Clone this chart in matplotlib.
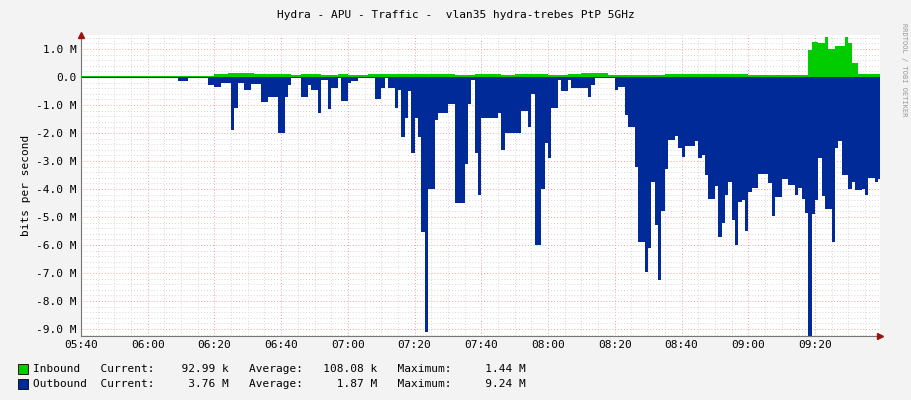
import numpy as np
import matplotlib.pyplot as plt
from matplotlib.patches import Rectangle

# minutes since 05:40, step series (value holds until next start), in Mbit/s
out_start = [0, 29, 32, 38, 40, 42, 45, 46, 47, 49, 51, 54, 56, 59, 61, 62, 63, 66, 68, 69, 71, 72,
             74, 75, 77, 78, 80, 81, 83, 88, 90, 91, 92, 94, 95, 96, 97, 98, 99, 100, 101, 102, 103,
             104, 106, 107, 110, 112, 115, 116, 117, 118, 119, 120, 125, 126, 127, 132, 134, 135,
             136, 138, 139, 140, 141, 143, 144, 146, 147, 152, 153, 154, 160, 161, 163, 164, 166,
             167, 169, 170, 171, 172, 173, 174, 175, 176, 178, 179, 180, 181, 184, 185, 186, 187,
             188, 190, 191, 192, 193, 194, 195, 196, 197, 198, 199, 200, 201, 203, 206, 207, 208,
             210, 212, 214, 215, 216, 217, 218, 219, 220, 221, 222, 223, 225, 226, 227, 228, 230,
             231, 232, 234, 235, 236, 238, 239]
out_val = [-0.05, -0.15, -0.05, -0.3, -0.35, -0.2, -1.9, -1.1, -0.2, -0.45, -0.25, -0.9, -0.7, -2.0,
           -0.7, -0.3, -0.05, -0.7, -0.3, -0.45, -1.3, -0.1, -1.15, -0.4, -0.05, -0.85, -0.2, -0.15,
           -0.05, -0.8, -0.4, -0.05, -0.4, -1.1, -0.45, -2.15, -1.45, -0.5, -2.7, -1.45, -2.15,
           -5.55, -9.1, -4.0, -1.55, -1.3, -0.95, -4.5, -3.1, -0.95, -0.1, -2.7, -4.2, -1.45, -1.3,
           -2.6, -2.0, -1.2, -1.8, -0.6, -6.0, -4.0, -2.35, -2.9, -1.1, -0.1, -0.5, -0.1, -0.4,
           -0.7, -0.3, -0.03, -0.45, -0.35, -1.35, -1.8, -3.2, -5.9, -6.95, -6.1, -3.75, -5.3,
           -7.25, -4.8, -3.3, -2.25, -2.1, -2.55, -2.85, -2.45, -2.3, -2.9, -2.8, -3.5, -4.35,
           -3.9, -5.7, -5.2, -4.2, -3.75, -5.1, -6.0, -4.45, -4.4, -5.5, -4.1, -3.95, -3.45, -3.8,
           -4.95, -4.3, -3.65, -3.85, -4.2, -3.95, -4.35, -4.85, -9.24, -4.9, -4.4, -2.9, -4.25,
           -4.7, -5.9, -2.55, -2.3, -3.5, -4.0, -3.75, -4.05, -4.0, -4.2, -3.6, -3.75, -3.65]

in_start = [0, 40, 44, 48, 52, 58, 63, 66, 69, 72, 77, 80, 86, 92, 96, 102, 108, 112, 118, 126,
            130, 140, 146, 150, 158, 175, 200, 218, 219, 221, 223, 224, 226, 229, 230, 231, 233,
            239]
in_val = [0.05, 0.12, 0.15, 0.13, 0.1, 0.12, 0.06, 0.1, 0.12, 0.08, 0.12, 0.06, 0.1, 0.12, 0.1,
          0.12, 0.1, 0.08, 0.1, 0.08, 0.12, 0.06, 0.1, 0.14, 0.08, 0.1, 0.08, 0.95, 1.25, 1.2,
          1.43, 1.0, 1.1, 1.43, 1.2, 0.5, 0.1, 0.1]

tick_min = [0, 20, 40, 60, 80, 100, 120, 140, 160, 180, 200, 220]
tick_lab = ['05:40', '06:00', '06:20', '06:40', '07:00', '07:20', '07:40', '08:00',
            '08:20', '08:40', '09:00', '09:20']
y_ticks = [1, 0, -1, -2, -3, -4, -5, -6, -7, -8, -9]

mono = 'DejaVu Sans Mono'
plt.rcParams['font.family'] = mono
plt.rcParams['font.size'] = 7

fig = plt.figure(figsize=(9.11, 4.0), dpi=100, facecolor='#F3F3F3')
ax = fig.add_axes([81 / 911, 1 - 336 / 400, 799 / 911, 301 / 400])
ax.set_facecolor('white')

xmax = 239.5
ax.set_xlim(0, xmax)
ax.set_ylim(-9.25, 1.5)

# grid
for m in np.arange(5, xmax, 5):
    major = m % 20 == 0
    ax.axvline(m, color='#F0A0A0' if major else '#D8D8D8', lw=0.7, ls=(0, (1, 2)), zorder=0)
for v in np.arange(-9.2, 1.5, 0.2):
    major = abs(v - round(v)) < 1e-6
    ax.axhline(v, color='#F0A0A0' if major else '#D8D8D8', lw=0.7, ls=(0, (1, 2)), zorder=0)

xs = list(out_start) + [xmax]
ax.fill_between(xs, list(out_val) + [out_val[-1]], 0, step='post', color='#002A97', lw=0, zorder=2)
xi = list(in_start) + [xmax]
ax.fill_between(xi, list(in_val) + [in_val[-1]], 0, step='post', color='#00CC00', lw=0, zorder=3)

for s in ['top', 'right']:
    ax.spines[s].set_visible(False)
ax.spines['left'].set_color('#777777')
ax.spines['bottom'].set_color('#777777')
ax.plot([xmax], [-9.25], marker='>', color='#A01010', ms=4, clip_on=False, zorder=5)
ax.plot([0], [1.5], marker='^', color='#A01010', ms=4, clip_on=False, zorder=5)

ax.set_xticks(tick_min)
ax.set_xticklabels(tick_lab, fontsize=8)
ax.set_yticks(y_ticks)
ax.set_yticklabels([('%.1f M' % v if v != 0 else '0.0') for v in y_ticks], fontsize=8)
ax.tick_params(length=0, pad=3, colors='#000000')
ax.set_ylabel('bits per second', fontsize=8, labelpad=4)

fig.text(0.5, 1 - 15 / 400, 'Hydra - APU - Traffic -  vlan35 hydra-trebes PtP 5GHz',
         ha='center', va='center', fontsize=8)
fig.text(1 - 7 / 911, 1 - 70 / 400, 'RRDTOOL / TOBI OETIKER', rotation=270, ha='center',
         va='center', fontsize=5, color='#999999')

leg = [('#00CC00', 'Inbound   Current:    92.99 k   Average:   108.08 k   Maximum:     1.44 M'),
       ('#002A97', 'Outbound  Current:     3.76 M   Average:     1.87 M   Maximum:     9.24 M')]
for i, (c, t) in enumerate(leg):
    y = 369 + 15 * i
    fig.patches.append(Rectangle((18 / 911, 1 - (y + 5) / 400), 10 / 911, 10 / 400,
                                 transform=fig.transFigure, facecolor=c, edgecolor='black', lw=0.6))
    fig.text(33 / 911, 1 - y / 400, t, va='center', fontsize=8)

fig.savefig('out.png', dpi=100, facecolor=fig.get_facecolor())
